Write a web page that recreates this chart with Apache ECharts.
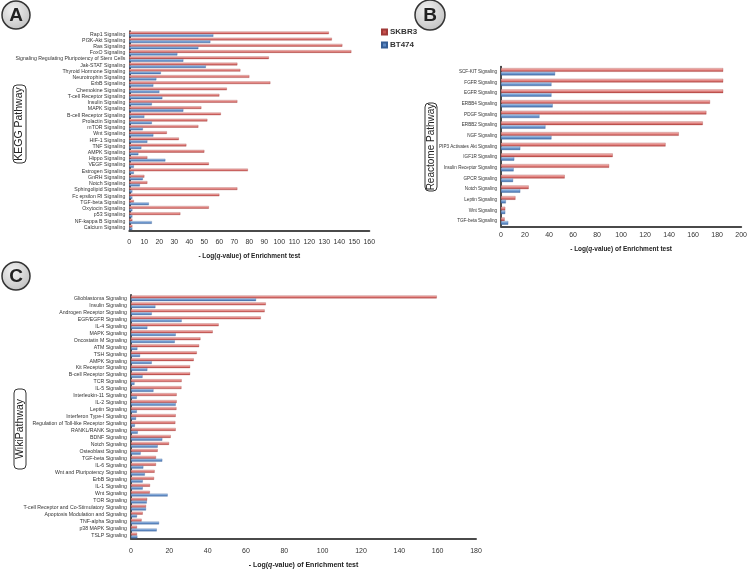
<!DOCTYPE html>
<html><head><meta charset="utf-8">
<script src="https://cdn.jsdelivr.net/npm/echarts@6/dist/echarts.min.js"></script>
<style>html,body{margin:0;padding:0;background:#fff}#c{width:750px;height:570px}</style>
</head><body><div id="c"></div>
<script>
const keggCats = ["Rap1 Signaling","PI3K-Akt Signaling","Ras Signaling","FoxO Signaling","Signaling Regulating Pluripotency of Stem Cells","Jak-STAT Signaling","Thyroid Hormone Signaling","Neurotrophin Signaling","ErbB Signaling","Chemokine Signaling","T-cell Receptor Signaling","Insulin Signaling","MAPK Signaling","B-cell Receptor Signaling","Prolactin Signaling","mTOR Signaling","Wnt Signaling","HIF-1 Signaling","TNF Signaling","AMPK Signaling","Hippo Signaling","VEGF Signaling","Estrogen Signaling","GnRH Signaling","Notch Signaling","Sphingolipid Signaling","Fc epsilon RI Signaling","TGF-beta Signaling","Oxytocin Signaling","p53 Signaling","NF-kappa B Signaling","Calcium Signaling"];
const keggSKBR3 = [133,135,142,148,93,72,74,80,94,65,60,72,48,61,52,46,25,33,38,50,12,53,79,10,12,72,60,3,53,34,2,2];
const keggBT474 = [56,54,46,32,36,51,21,18,16,20,22,15,36,10,15,9,16,12,8,6,24,3,3,9,7,2,2,13,2,2,15,2];

const reactomeCats = ["SCF-KIT Signaling","FGFR Signaling","EGFR Signaling","ERBB4 Signaling","PDGF Signaling","ERBB2 Signaling","NGF Signaling","PIP3 Activates Akt Signaling","IGF1R Signaling","Insulin Receptor Signaling","GPCR Signaling","Notch Signaling","Leptin Signaling","Wnt Signaling","TGF-beta Signaling"];
const reactomeSKBR3 = [185,185,185,174,171,168,148,137,93,90,53,23,12,3.5,3];
const reactomeBT474 = [45,42,42,43,32,37,42,16,11,10.5,10,16,4,3.5,6];

const wikiCats = ["Glioblastoma Signaling","Insulin Signaling","Androgen Receptor Signaling","EGF/EGFR Signaling","IL-4 Signaling","MAPK Signaling","Oncostatin M Signaling","ATM Signaling","TSH Signaling","AMPK Signaling","Kit Receptor Signaling","B-cell Receptor Signaling","TCR Signaling","IL-5 Signaling","Interleukin-11 Signaling","IL-2 Signaling","Leptin Signaling","Interferon Type-I Signaling","Regulation of Toll-like Receptor Signaling","RANKL/RANK Signaling","BDNF Signaling","Notch Signaling","Osteoblast Signaling","TGF-beta Signaling","IL-6 Signaling","Wnt and Pluripotency Signaling","ErbB Signaling","IL-1 Signaling","Wnt Signaling","TOR Signaling","T-cell Receptor and Co-Stimulatory Signaling","Apoptosis Modulation and Signaling","TNF-alpha Signaling","p38 MAPK Signaling","TSLP Signaling"];
const wikiSKBR3 = [159.5,70.3,69.7,67.7,45.7,42.6,36.2,35.5,34.3,32.7,30.8,30.8,26.4,26.3,23.8,23.8,23.7,23.3,23.1,23.3,20.7,19.8,13.9,13,13,12.3,12,9.9,9.8,8.4,7.8,6.1,5.5,3.1,3.1];
const wikiBT474 = [65.2,12.7,10.8,26.4,8.5,23.3,22.8,3.3,4.7,10.8,8.5,6,1.8,11.7,3,23.3,3,2.6,2,3.5,16.3,13.9,5,16.3,6.4,7.2,6.1,6.1,19.1,8.2,7.8,3.1,14.6,13.4,3.3];

const seriesNames = ["SKBR3","BT474"];
const axisMax = [160,200,180];
const axisInterval = [10,20,20];

const FONT = "Liberation Sans, Arial, sans-serif";
const redFill = new echarts.graphic.LinearGradient(0,0,0,1,[{offset:0,color:'#f8cfcd'},{offset:0.45,color:'#e58a87'},{offset:1,color:'#b5403d'}]);
const blueFill = new echarts.graphic.LinearGradient(0,0,0,1,[{offset:0,color:'#cfe0f3'},{offset:0.45,color:'#729dd3'},{offset:1,color:'#3e6aa6'}]);

const grids = [
  {left:129.3, right:380.7, top:31, height:199.5},
  {left:501, right:7.3, top:66.4, height:160},
  {left:131, right:274, top:294.8, height:244.4}
];
const cats = [keggCats, reactomeCats, wikiCats];
const reds = [keggSKBR3, reactomeSKBR3, wikiSKBR3];
const blues = [keggBT474, reactomeBT474, wikiBT474];
const catFont = [5.2, 4.6, 5.2];
const barW = [2.6, 3.6, 2.8];
const labelMargin = [8, 5, 9];
const nameGap = [22, 19, 23];
const nameSize = [6.5, 6.5, 7];

const xAxis = [], yAxis = [], series = [];
for (let i = 0; i < 3; i++) {
  xAxis.push({
    gridIndex:i, type:'value', min:0, max:axisMax[i], interval:axisInterval[i],
    splitLine:{show:false}, axisTick:{show:false},
    axisLine:{show:true, lineStyle:{color:'#4a4a4a', width:2}},
    axisLabel:{fontSize:7, color:'#333', fontFamily:FONT, margin:labelMargin[i]},
    name:'- Log({i|q}-value) of Enrichment test', nameLocation:'middle', nameGap:nameGap[i],
    nameTextStyle:{fontSize:nameSize[i], fontWeight:'bold', color:'#222', fontFamily:FONT,
      rich:{i:{fontSize:nameSize[i], fontWeight:'bold', fontStyle:'italic', color:'#222', fontFamily:FONT}}}
  });
  yAxis.push({
    gridIndex:i, type:'category', data:cats[i], inverse:true,
    axisLine:{show:true, lineStyle:{color:'#111', width:1.5}},
    axisTick:{show:false},
    axisLabel:{fontSize:catFont[i], color:'#333', fontFamily:FONT, margin:4, interval:0}
  });
  series.push({
    name:seriesNames[0], type:'bar', xAxisIndex:i, yAxisIndex:i, data:reds[i],
    barWidth:barW[i], barGap:'0%',
    itemStyle:{color:redFill, borderColor:'#a03a38', borderWidth:0.3}
  });
  series.push({
    name:seriesNames[1], type:'bar', xAxisIndex:i, yAxisIndex:i, data:blues[i],
    barWidth:barW[i], barGap:'0%',
    itemStyle:{color:blueFill, borderColor:'#355d95', borderWidth:0.3}
  });
}

function circle(cx, cy, r, letter) {
  return {type:'group', children:[
    {type:'circle', shape:{cx:cx, cy:cy, r:r},
      style:{fill:new echarts.graphic.RadialGradient(0.4,0.35,0.8,[{offset:0,color:'#f2f2f2'},{offset:1,color:'#b9b9b9'}]), stroke:'#333', lineWidth:1.5}},
    {type:'text', x:cx, y:cy+1, style:{text:letter, fontSize:19, fontWeight:'bold', fill:'#222', fontFamily:FONT, align:'center', verticalAlign:'middle'}}
  ]};
}
function box(x, y, w, h, label, fs) {
  return {type:'group', children:[
    {type:'rect', shape:{x:x, y:y, width:w, height:h, r:4}, style:{fill:'#fff', stroke:'#333', lineWidth:1}},
    {type:'text', x:x + w/2, y:y + h/2, rotation:Math.PI/2,
      style:{text:label, fontSize:fs, fill:'#222', fontFamily:FONT, align:'center', verticalAlign:'middle'}}
  ]};
}

const option = {
  animation:false,
  backgroundColor:'#fff',
  grid:grids,
  xAxis:xAxis, yAxis:yAxis, series:series,
  legend:{
    orient:'vertical', left:376, top:23, itemWidth:5, itemHeight:5, itemGap:5,
    icon:'rect',
    data:[{name:'SKBR3', itemStyle:{color:'#c9524f'}}, {name:'BT474', itemStyle:{color:'#5b88c4'}}],
    textStyle:{fontSize:8, fontWeight:'bold', color:'#333', fontFamily:FONT, padding:[0,0,0,-2]}
  },
  graphic:[
    circle(16,15,14,'A'),
    circle(430,15,15,'B'),
    circle(16,276,14,'C'),
    box(13,85,13,78,'KEGG Pathway',10.5),
    box(425,103,12,88,'Reactome Pathway',10),
    box(14,389,12,80,'WikiPathway',10.5)
  ]
};
const chart = echarts.init(document.getElementById('c'), null, {renderer:'canvas'});
chart.setOption(option);
</script></body></html>
